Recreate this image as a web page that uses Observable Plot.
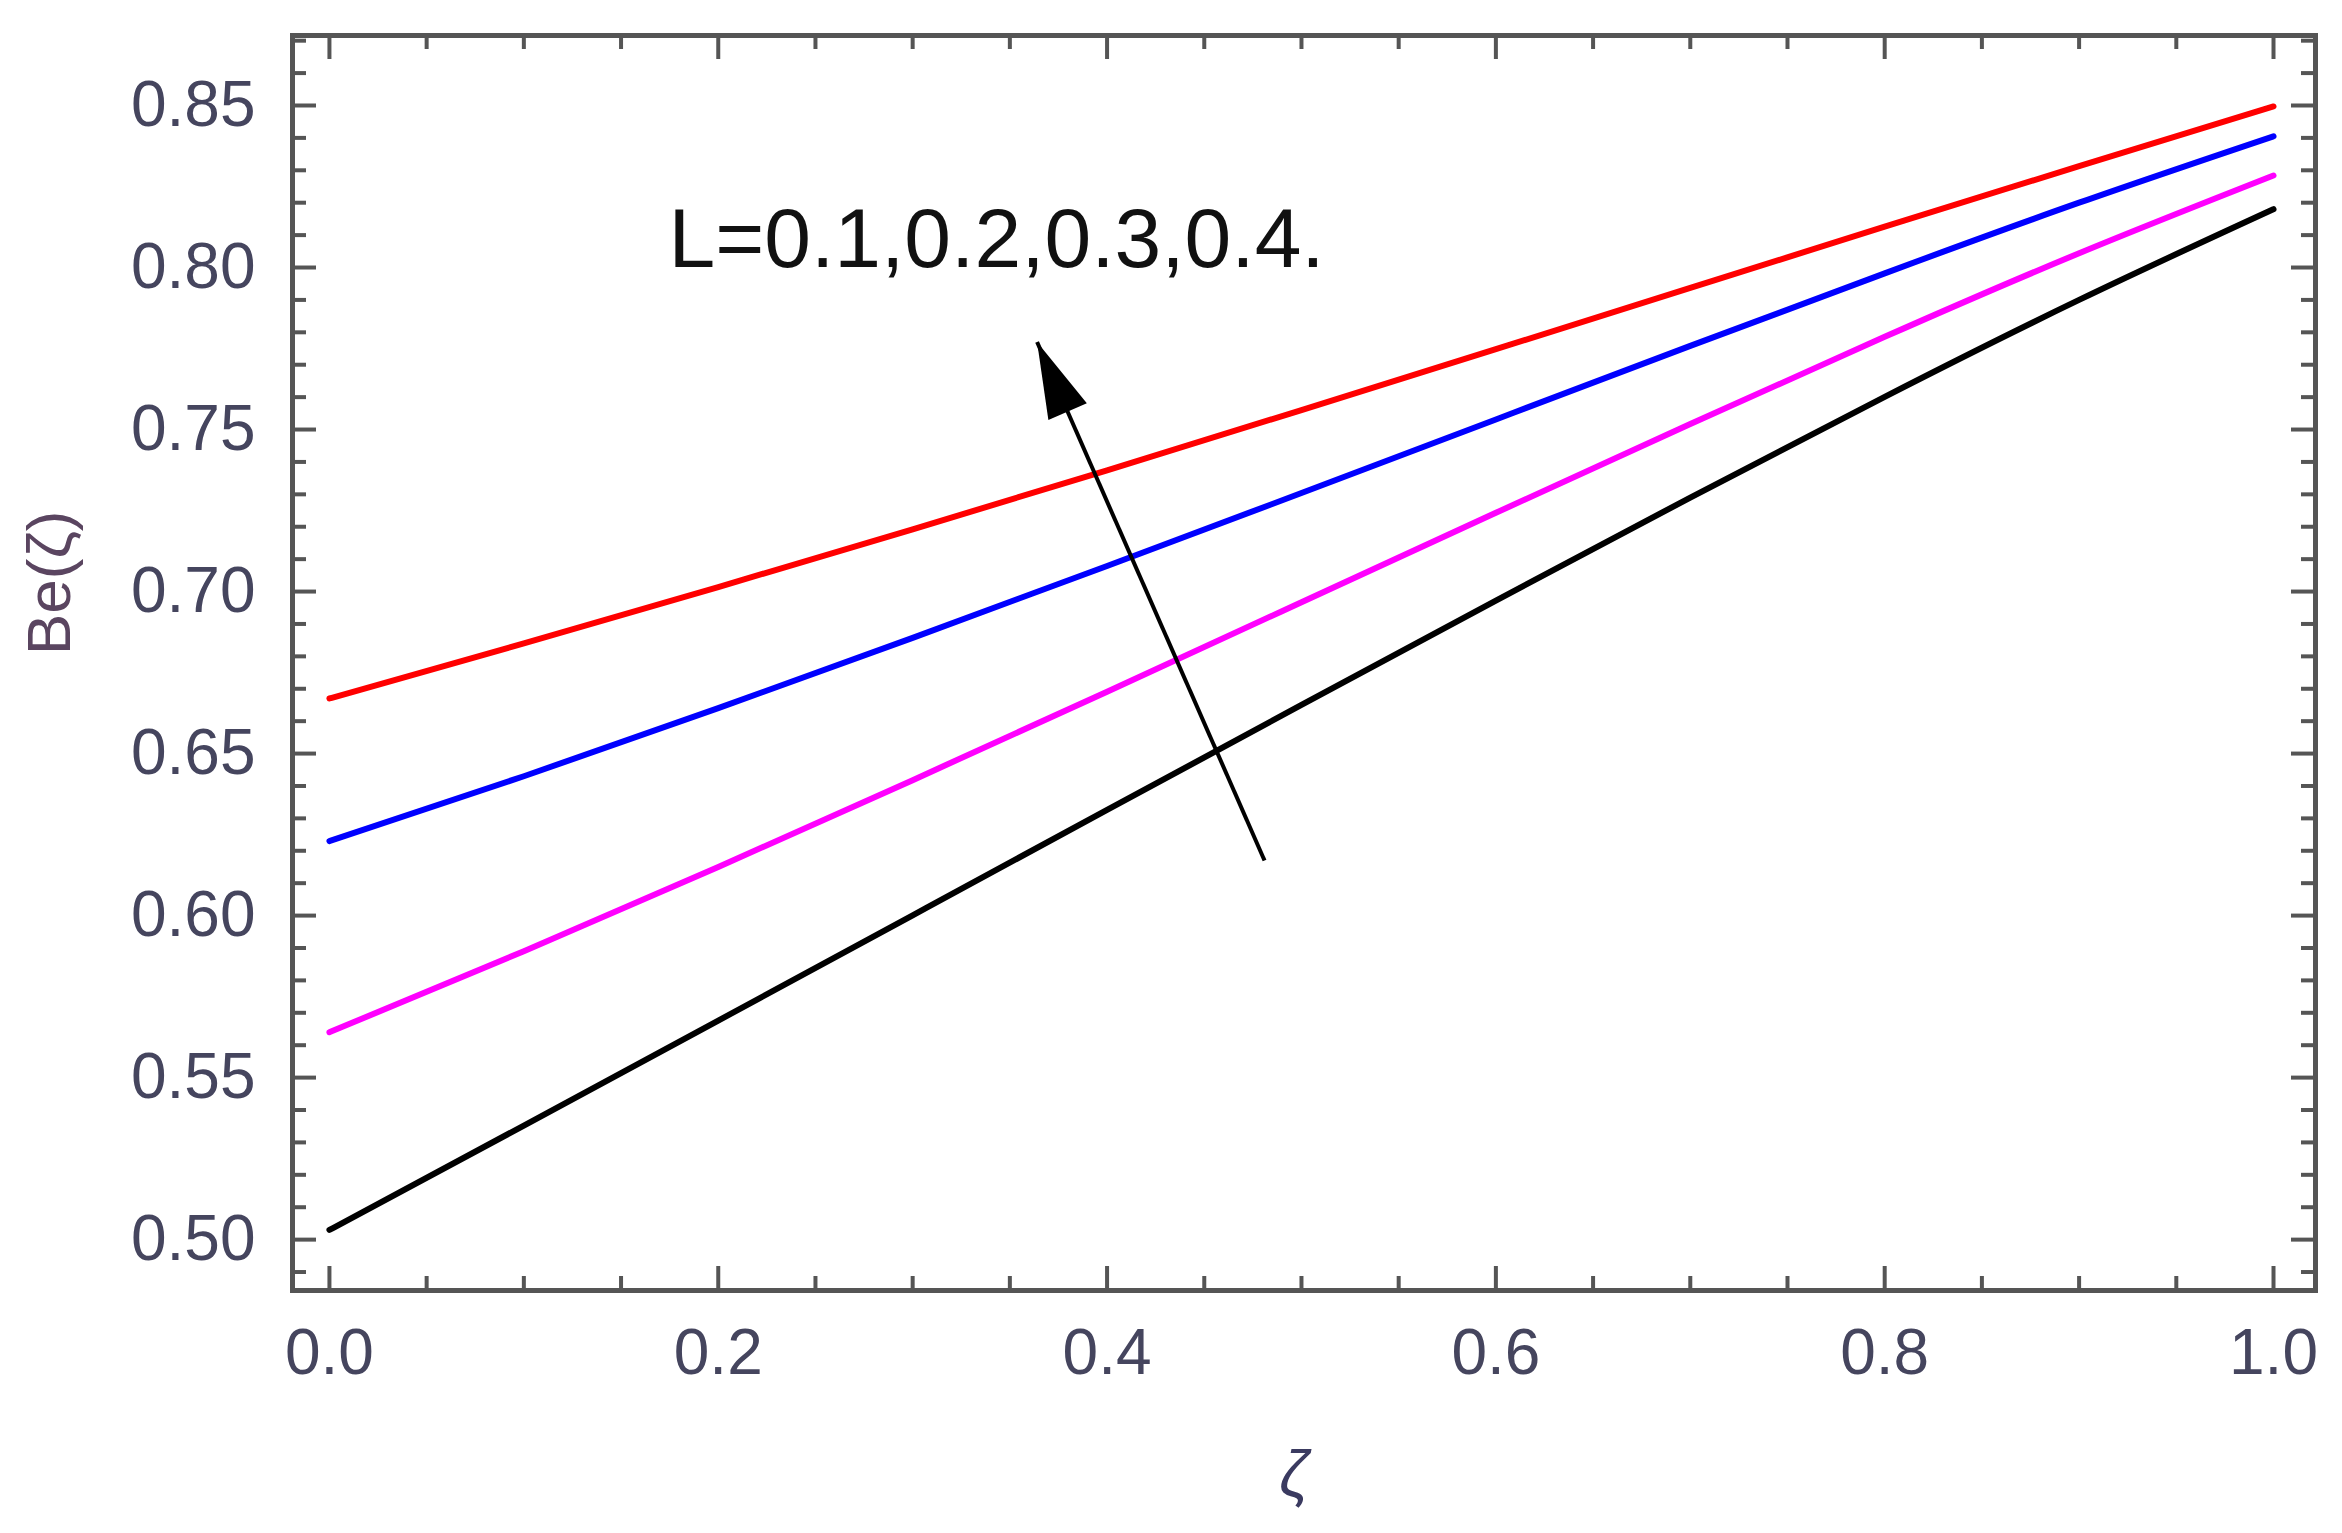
<!DOCTYPE html>
<html>
<head>
<meta charset="utf-8">
<script src="https://cdn.jsdelivr.net/npm/d3@7"></script>
<script src="https://cdn.jsdelivr.net/npm/@observablehq/plot@0.6"></script>
<style>
  html, body { margin: 0; padding: 0; background: #ffffff; }
  #chart { width: 2342px; height: 1533px; }
</style>
</head>
<body>
<div id="chart"></div>
<script>
// ---------- data ----------
const zeta = [0, 0.1, 0.2, 0.3, 0.4, 0.5, 0.6, 0.7, 0.8, 0.9, 1.0];
const beL01 = [0.503, 0.5352, 0.5676, 0.6001, 0.6326, 0.665, 0.6972, 0.729, 0.7601, 0.790, 0.818]; // black
const beL02 = [0.564, 0.589, 0.615, 0.6418, 0.6691, 0.6967, 0.7243, 0.7517, 0.7786, 0.8044, 0.8284]; // magenta
const beL03 = [0.623, 0.643, 0.664, 0.6857, 0.7079, 0.7304, 0.7531, 0.7758, 0.7982, 0.820, 0.8405]; // blue
const beL04 = [0.667, 0.684, 0.7014, 0.7192, 0.7374, 0.756, 0.7748, 0.7937, 0.8126, 0.8313, 0.8497]; // red

const seriesL = ["0.1", "0.2", "0.3", "0.4"];
const seriesValues = [beL01, beL02, beL03, beL04];
const seriesColors = ["#000000", "#ff00ff", "#0000ff", "#ff0000"];

const xTickLabels = [0, 0.2, 0.4, 0.6, 0.8, 1.0];
const yTickLabels = [0.50, 0.55, 0.60, 0.65, 0.70, 0.75, 0.80, 0.85];

const annotationText = ["L=0.1,0.2,0.3,0.4."];
const annotationPos = [{x: 0.1744, y: 0.8086}];
const arrowTail = {x: 0.481, y: 0.617};
const arrowTip = {x: 0.364, y: 0.777};

const xDomain = [-0.019, 1.0216];
const yDomain = [0.4843, 0.8716];

// ---------- derived tables ----------
const rows = [];
seriesL.forEach((L, i) => zeta.forEach((z, j) => rows.push({zeta: z, be: seriesValues[i][j], L})));

const xMinor = d3.range(0, 1.0001, 0.05).map(v => +v.toFixed(2)).filter(v => !xTickLabels.some(t => Math.abs(t - v) < 1e-6));
const yMinor = d3.range(0.49, 0.8701, 0.01).map(v => +v.toFixed(2)).filter(v => !yTickLabels.some(t => Math.abs(t - v) < 1e-6));

// ---------- layout ----------
const W = 2342, H = 1533;
const mL = 292, mR = 27, mT = 35, mB = 243;
const plotW = W - mL - mR, plotH = H - mT - mB;
const majorLen = 24, minorLen = 14;
const axisColor = "#555555";
const labelColor = "#45455e";
const font = "'Liberation Sans', Arial, Helvetica, sans-serif";

const base = {
  width: W, height: H,
  marginLeft: mL, marginRight: mR, marginTop: mT, marginBottom: mB,
  x: {domain: xDomain, axis: null},
  y: {domain: yDomain, axis: null},
  color: {domain: seriesL, range: seriesColors, legend: false},
  style: {fontFamily: font, background: "#ffffff", overflow: "visible"}
};

// probe to measure the arrow direction through Plot's own scales
const probe = Plot.plot({...base, marks: [Plot.link([{...arrowTail, x2: arrowTip.x, y2: arrowTip.y}], {x1: "x", y1: "y", x2: "x2", y2: "y2"})]});
const sx = probe.scale("x"), sy = probe.scale("y");
const theta = Math.atan2(sy.apply(arrowTip.y) - sy.apply(arrowTail.y), sx.apply(arrowTip.x) - sx.apply(arrowTail.x));
const headLen = 76, headHalf = 21;
const arrowHead = {
  draw(ctx) {
    const ux = Math.cos(theta), uy = Math.sin(theta);
    const px = -uy, py = ux;
    ctx.moveTo(0, 0);
    ctx.lineTo(-headLen * ux + headHalf * px, -headLen * uy + headHalf * py);
    ctx.lineTo(-headLen * ux - headHalf * px, -headLen * uy - headHalf * py);
    ctx.closePath();
  }
};

const tickStyle = {stroke: axisColor, strokeWidth: 4};

const chart = Plot.plot({
  ...base,
  marks: [
    // curves
    Plot.line(rows, {x: "zeta", y: "be", z: "L", stroke: "L", strokeWidth: 6, curve: "natural"}),
    // arrow
    Plot.link([{...arrowTail, x2: arrowTip.x, y2: arrowTip.y}], {x1: "x", y1: "y", x2: "x2", y2: "y2", stroke: "#000", strokeWidth: 4}),
    Plot.dot([arrowTip], {x: "x", y: "y", symbol: arrowHead, r: 10, fill: "#000", stroke: "none"}),
    // annotation
    Plot.text(annotationText, {x: () => annotationPos[0].x, y: () => annotationPos[0].y, text: d => d, textAnchor: "start", lineAnchor: "middle", fontSize: 84, fill: "#111"}),
    // inward ticks: bottom / top
    Plot.tickX(xTickLabels, {x: d => d, insetTop: plotH - majorLen, ...tickStyle}),
    Plot.tickX(xMinor, {x: d => d, insetTop: plotH - minorLen, ...tickStyle}),
    Plot.tickX(xTickLabels, {x: d => d, insetBottom: plotH - majorLen, ...tickStyle}),
    Plot.tickX(xMinor, {x: d => d, insetBottom: plotH - minorLen, ...tickStyle}),
    // inward ticks: left / right
    Plot.tickY(yTickLabels, {y: d => d, insetRight: plotW - majorLen, ...tickStyle}),
    Plot.tickY(yMinor, {y: d => d, insetRight: plotW - minorLen, ...tickStyle}),
    Plot.tickY(yTickLabels, {y: d => d, insetLeft: plotW - majorLen, ...tickStyle}),
    Plot.tickY(yMinor, {y: d => d, insetLeft: plotW - minorLen, ...tickStyle}),
    // frame
    Plot.frame({stroke: axisColor, strokeWidth: 5}),
    // tick labels
    Plot.text(xTickLabels, {x: d => d, frameAnchor: "bottom", text: d => d3.format(".1f")(d), lineAnchor: "top", dy: 38, fontSize: 64, fill: labelColor}),
    Plot.text(yTickLabels, {y: d => d, frameAnchor: "left", text: d => d3.format(".2f")(d), textAnchor: "end", lineAnchor: "middle", dx: -37, fontSize: 64, fill: labelColor}),
    // axis titles
    Plot.text(["Be(ζ)"], {frameAnchor: "left", text: d => d, rotate: -90, dx: -242, dy: -8, fontSize: 62, fill: "#5a4560", lineAnchor: "middle"}),
    Plot.text(["ζ"], {frameAnchor: "bottom", text: d => d, dx: -10, dy: 185, fontSize: 64, fontStyle: "italic", fill: "#3a3a60", lineAnchor: "middle"})
  ]
});

document.getElementById("chart").appendChild(chart);
</script>
</body>
</html>
